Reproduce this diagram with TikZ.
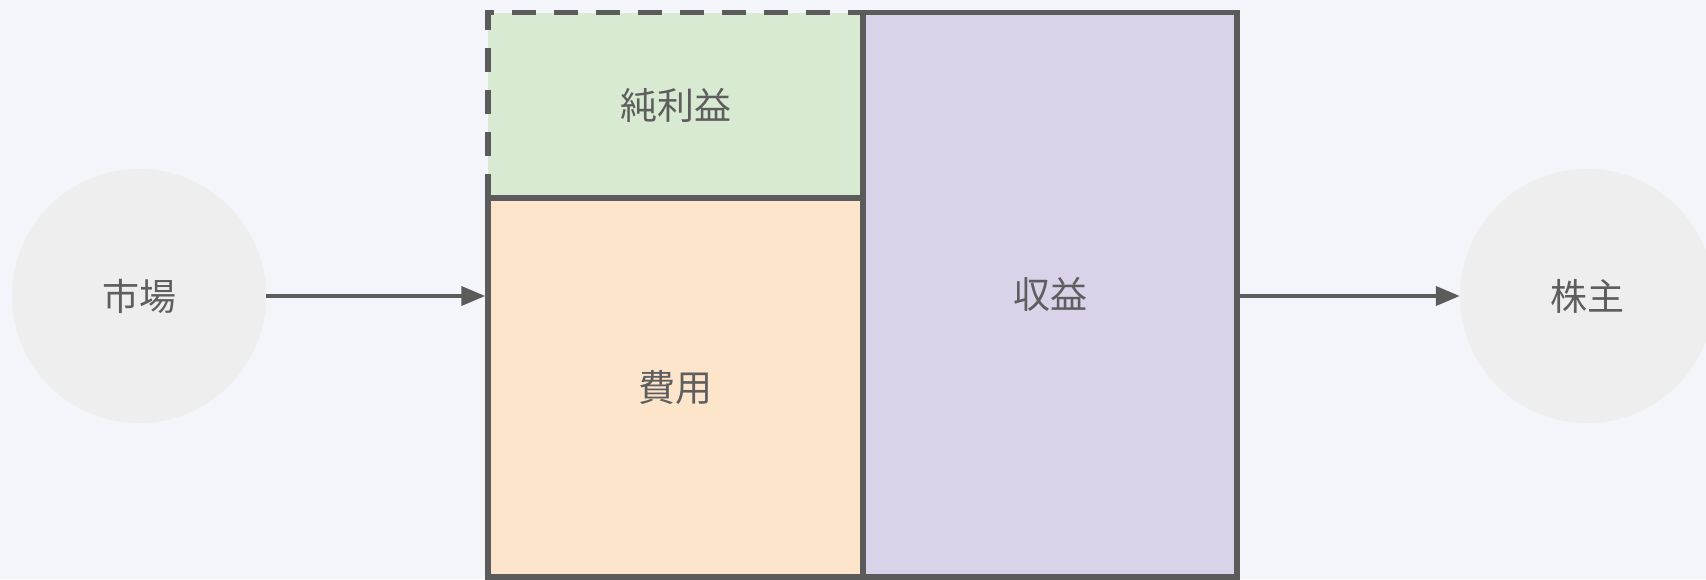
\documentclass[tikz,border=0pt]{standalone}
\usepackage{fontspec}
\newfontfamily\cjk{Noto Sans CJK JP}
\usetikzlibrary{arrows.meta}
\definecolor{bg}{HTML}{F3F5FA}
\definecolor{circ}{HTML}{EEEEEE}
\definecolor{ink}{HTML}{5B5B5B}
\definecolor{txt}{HTML}{5E5E5E}
\definecolor{gfill}{HTML}{D9EAD3}
\definecolor{ofill}{HTML}{FDE5CC}
\definecolor{pfill}{HTML}{DAD2E9}
\tikzset{
  party/.style={circle, fill=circ, minimum size=254pt, inner sep=0pt, font=\cjk\fontsize{37}{42}\selectfont, text=txt},
  block/.style={rectangle, inner sep=0pt, font=\cjk\fontsize{37}{42}\selectfont, text=txt},
  edge/.style={draw=ink, line width=5.5pt},
  flow/.style={draw=ink, line width=4pt, -{Triangle[length=24pt,width=19pt]}}
}
\begin{document}
\begin{tikzpicture}[x=1pt,y=-1pt]
\fill[bg] (0,0) rectangle (1706,579);
\useasboundingbox (0,0) rectangle (1706,579);
\node[party] (market) at (139,296) {市場};
\node[party] (holder) at (1587,296) {株主};
\node[block, fill=gfill, minimum width=375pt, minimum height=185.5pt] (profit) at (675.5,105.25) {純利益};
\node[block, fill=ofill, edge, minimum width=375pt, minimum height=379pt] (cost) at (675.5,387.5) {費用};
\node[block, fill=pfill, edge, minimum width=374pt, minimum height=564.5pt] (rev) at (1050,294.75) {収益};
\draw[draw=ink, line width=5.5pt, dash pattern=on 24pt off 18pt] (profit.south west) -- (profit.north west) -- (profit.north east);
\draw[flow] (market.east) -- (cost.west |- market.east);
\draw[flow] (rev.east |- holder.west) -- (holder.west);
\end{tikzpicture}
\end{document}
